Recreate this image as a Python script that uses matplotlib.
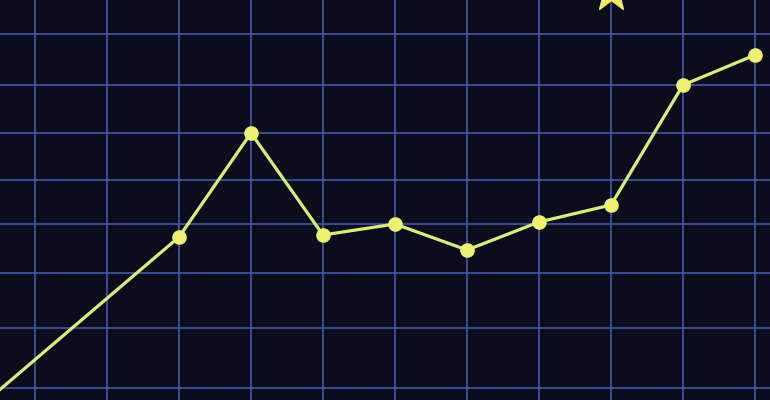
import matplotlib
matplotlib.use("Agg")
import matplotlib.pyplot as plt

# column index of each point (vertical grid lines sit on whole numbers)
x_vals = [-1, 2, 3, 4, 5, 6, 7, 8, 9, 10]
# heights measured up from the bottom edge of the picture
y_vals = [-21, 163, 267, 165, 176, 150, 178, 195, 315, 345]

# horizontal grid lines are not evenly spaced in the picture
h_grid = [12, 72, 127, 176, 220, 267, 315, 366]
v_grid = list(range(0, 11))

# the clipped star at the top
star_x = [8.0]
star_y = [408]

fig = plt.figure(figsize=(7.7, 4.0), dpi=100)
ax = fig.add_axes([0, 0, 1, 1])
fig.patch.set_facecolor('#0b0c1c')
ax.set_facecolor('#0b0c1c')

grid_col = '#4656a6'
for gx in v_grid:
    ax.axvline(gx, color=grid_col, lw=1.2, zorder=1)
for gy in h_grid:
    ax.axhline(gy, color=grid_col, lw=1.2, zorder=1)

ax.plot(x_vals, y_vals, color='#d4f07a', lw=2.3, zorder=3)
ax.plot(x_vals, y_vals, 'o', color='#eef070', markersize=9.5, zorder=4)
ax.plot(star_x, star_y, '*', color='#f2ea6a', markersize=30, zorder=4)

# x pixel = 35 + 72*i  -> 0 px at left edge, 770 px at right edge
ax.set_xlim(-35 / 72, (770 - 35) / 72)
ax.set_ylim(0, 400)
ax.axis('off')

fig.savefig('out.png', dpi=100, facecolor=fig.get_facecolor())
